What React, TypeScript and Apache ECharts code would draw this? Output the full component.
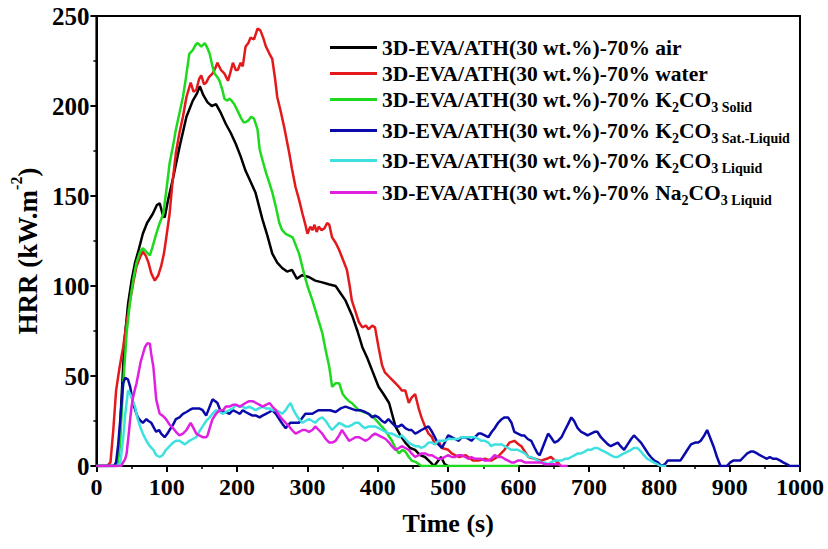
import React, { useEffect, useRef } from "react";
import * as echarts from "echarts";

const xTicks = [0, 100, 200, 300, 400, 500, 600, 700, 800, 900, 1000];
const yTicks = [0, 50, 100, 150, 200, 250];

const seriesNames = ["air", "water", "K2CO3 Solid", "K2CO3 Sat.-Liquid", "K2CO3 Liquid", "Na2CO3 Liquid"];
const seriesColors = ["#000000", "#e3191c", "#1fd91f", "#0a0aaa", "#3ee0e0", "#e020e0"];

const airData: [number, number][] = [[0,0],[10,0],[20,0],[28,0],[32,8],[36,40],[40,70],[45,90],[50,103],[55,113],[60,120],[66,129],[72,135],[80,140],[86,145],[90,146],[94,140],[97,138],[102,148],[109,160],[118,177],[128,194],[137,203],[143,207],[147,211],[152,206],[158,202],[164,200],[170,201],[177,196],[184,190],[191,185],[198,179],[205,172],[212,164],[219,158],[226,152],[236,137],[243,128],[250,118],[257,113],[264,110],[271,108],[278,109],[285,104],[292,106],[302,105],[311,103],[321,102],[330,101],[340,100],[347,96],[354,92],[364,83],[371,75],[378,66],[385,60],[392,53],[401,44],[408,40],[416,35],[425,22],[432,17],[439,13],[446,10],[453,9],[460,6],[467,5],[475,2],[480,0],[486,3],[490,5],[495,1],[500,0]];

const waterData: [number, number][] = [[0,0],[15,0],[20,2],[24,20],[28,42],[33,55],[38,66],[43,80],[48,92],[53,103],[57,111],[62,116],[66,119],[70,117],[74,113],[78,107],[83,103],[88,106],[92,111],[96,118],[99,126],[104,140],[108,157],[113,174],[118,185],[123,194],[128,205],[134,213],[138,208],[142,209],[146,215],[149,217],[153,212],[156,213],[160,216],[165,218],[169,221],[172,224],[177,220],[182,218],[187,214],[190,218],[194,224],[198,220],[201,220],[205,224],[208,222],[212,233],[216,235],[219,238],[224,237],[229,243],[233,242],[237,238],[241,233],[246,229],[250,226],[254,215],[257,205],[262,197],[267,188],[274,174],[278,165],[283,155],[288,148],[293,140],[297,134],[300,129],[304,133],[307,131],[310,134],[313,130],[316,133],[320,131],[324,132],[328,135],[331,134],[335,127],[340,124],[345,120],[350,115],[356,109],[360,100],[363,92],[368,86],[373,80],[378,77],[383,78],[387,76],[392,78],[396,77],[401,66],[406,56],[410,52],[415,50],[420,48],[425,46],[430,44],[434,42],[439,42],[444,35],[448,38],[453,40],[458,32],[462,27],[467,22],[472,18],[477,16],[481,12],[486,14],[491,10],[500,9],[505,7],[515,5],[525,6],[535,3],[543,3],[552,4],[561,3],[570,5],[580,9],[587,13],[594,14],[600,12],[604,11],[609,8],[614,5],[623,4],[632,3],[640,4],[646,5],[652,3],[656,2],[660,0]];

const solidData: [number, number][] = [[0,0],[25,0],[30,0],[34,15],[38,45],[43,74],[48,92],[53,105],[57,113],[62,119],[66,121],[71,119],[76,117],[80,122],[85,129],[90,135],[95,140],[100,155],[104,168],[109,178],[113,187],[118,196],[123,205],[127,215],[132,229],[137,231],[141,234],[144,235],[149,233],[154,235],[158,232],[161,229],[165,222],[168,218],[172,216],[175,214],[179,209],[182,204],[186,203],[189,204],[192,203],[196,201],[201,197],[206,193],[209,191],[212,191],[216,192],[220,194],[224,193],[229,187],[232,176],[236,170],[241,163],[246,157],[250,152],[255,144],[260,135],[264,131],[269,129],[274,128],[279,127],[283,123],[288,118],[295,107],[300,100],[307,92],[314,83],[321,74],[326,64],[331,55],[335,44],[340,46],[345,46],[350,40],[354,38],[359,36],[363,35],[368,33],[373,31],[380,30],[387,29],[394,27],[401,24],[410,20],[415,17],[420,14],[425,10],[430,7],[435,9],[439,8],[444,5],[448,3],[455,2],[462,0],[600,0]];

const satLiquidData: [number, number][] = [[0,0],[25,0],[28,2],[31,12],[34,26],[38,46],[41,49],[45,48],[48,44],[52,35],[56,30],[59,27],[63,25],[66,24],[71,26],[74,25],[78,24],[82,21],[85,19],[89,20],[92,18],[97,16],[101,18],[104,20],[109,23],[113,26],[118,27],[123,29],[128,30],[132,31],[137,32],[142,32],[146,32],[151,31],[156,28],[161,33],[165,37],[169,36],[172,35],[177,30],[184,30],[189,29],[194,31],[199,30],[204,29],[208,31],[212,30],[217,29],[222,28],[227,28],[232,27],[236,28],[241,29],[246,30],[250,31],[255,29],[260,26],[265,23],[269,21],[273,23],[276,24],[282,24],[288,24],[293,27],[297,29],[302,29],[307,29],[311,30],[316,31],[321,31],[326,31],[332,31],[340,30],[347,32],[354,33],[361,32],[368,31],[375,31],[382,30],[387,29],[392,27],[396,28],[401,27],[406,25],[410,24],[415,26],[420,24],[425,22],[430,22],[434,23],[439,21],[444,20],[448,20],[453,18],[458,19],[462,20],[467,21],[472,22],[477,19],[481,16],[486,12],[491,10],[495,13],[500,17],[505,16],[510,15],[515,14],[519,16],[524,16],[529,15],[533,14],[538,16],[543,18],[547,18],[552,17],[557,16],[562,19],[566,21],[571,24],[576,26],[580,27],[585,27],[590,24],[594,19],[599,18],[604,17],[608,17],[613,15],[618,14],[623,10],[627,7],[630,6],[634,10],[638,14],[642,18],[646,16],[651,13],[656,14],[661,16],[666,20],[670,23],[675,27],[679,25],[684,21],[689,19],[694,18],[698,17],[703,18],[708,19],[712,19],[717,16],[722,14],[727,12],[731,11],[736,12],[741,13],[745,11],[750,9],[755,12],[760,15],[764,17],[769,15],[774,13],[779,10],[784,7],[788,5],[793,3],[798,2],[803,0],[808,1],[812,3],[816,3],[821,3],[826,3],[830,3],[835,6],[840,9],[845,12],[851,13],[855,13],[859,14],[864,17],[868,20],[872,16],[877,11],[882,5],[887,0],[891,0],[896,0],[901,2],[905,3],[910,3],[915,3],[920,5],[925,7],[930,8],[934,8],[939,7],[943,6],[948,5],[953,4],[957,5],[962,4],[967,4],[972,3],[976,2],[981,1],[986,0],[1000,0]];

const k2co3LiquidData: [number, number][] = [[0,0],[30,0],[34,2],[38,15],[41,29],[45,42],[48,40],[50,38],[55,33],[58,27],[62,22],[66,18],[71,14],[76,11],[81,9],[85,6],[90,5],[94,6],[99,9],[104,11],[109,13],[113,14],[118,14],[122,13],[126,12],[129,13],[132,14],[137,15],[142,16],[146,19],[151,22],[156,25],[161,27],[165,29],[170,31],[175,30],[180,29],[184,30],[189,31],[194,32],[198,34],[203,33],[208,33],[212,32],[217,33],[222,32],[226,31],[231,32],[236,33],[241,32],[246,32],[250,31],[255,31],[260,30],[264,29],[269,31],[272,33],[276,35],[279,32],[283,29],[288,26],[293,24],[297,25],[302,26],[307,25],[311,24],[316,26],[321,27],[326,25],[331,22],[335,20],[340,22],[345,24],[350,23],[354,22],[359,22],[364,23],[368,24],[373,24],[378,22],[382,21],[387,22],[392,22],[396,22],[401,21],[406,20],[411,19],[416,18],[420,18],[425,17],[430,16],[434,17],[439,15],[444,13],[448,12],[453,11],[458,11],[462,10],[467,11],[472,13],[477,13],[481,12],[486,14],[491,14],[495,14],[500,15],[505,15],[509,15],[514,15],[519,16],[524,16],[529,16],[533,16],[538,16],[543,15],[547,14],[552,14],[557,13],[561,11],[566,12],[571,12],[576,12],[580,11],[585,10],[590,9],[594,9],[599,9],[604,8],[609,7],[614,5],[618,5],[623,4],[628,3],[632,2],[637,2],[642,1],[646,2],[651,3],[656,3],[661,3],[666,4],[670,4],[675,5],[680,6],[684,7],[689,7],[694,8],[698,9],[703,9],[708,10],[712,10],[717,9],[722,8],[727,7],[731,6],[736,5],[741,5],[745,6],[750,7],[755,8],[760,9],[764,10],[769,10],[774,8],[778,6],[783,4],[788,3],[792,2],[797,1],[802,0],[810,0]];

const na2co3LiquidData: [number, number][] = [[0,0],[35,0],[38,2],[41,4],[43,7],[46,18],[48,26],[50,33],[52,38],[55,43],[57,46],[60,52],[63,58],[66,62],[69,66],[72,68],[76,68],[78,62],[81,55],[83,46],[85,37],[88,32],[90,29],[94,28],[99,26],[104,23],[109,21],[113,19],[118,17],[123,18],[128,20],[131,22],[134,24],[138,21],[142,18],[146,17],[151,16],[156,16],[158,17],[161,21],[165,26],[170,29],[175,31],[180,31],[184,33],[189,33],[194,34],[199,34],[204,33],[208,34],[212,35],[217,36],[222,36],[227,35],[232,34],[236,33],[241,34],[246,35],[250,33],[255,31],[260,28],[264,26],[269,24],[274,22],[278,20],[283,18],[288,19],[293,20],[297,20],[302,19],[307,20],[311,22],[316,20],[321,18],[326,15],[331,13],[335,13],[340,14],[345,17],[349,20],[354,17],[359,14],[364,15],[368,16],[373,16],[378,15],[382,14],[387,15],[392,17],[396,18],[401,17],[406,16],[411,15],[416,13],[420,11],[425,9],[430,10],[434,11],[439,10],[444,9],[448,7],[453,5],[458,6],[462,7],[467,7],[472,6],[477,6],[481,5],[486,4],[491,4],[495,5],[500,6],[505,5],[510,5],[514,6],[519,6],[524,5],[529,4],[533,5],[538,4],[543,4],[547,4],[552,3],[557,3],[561,4],[566,6],[571,5],[576,5],[580,4],[585,3],[590,2],[594,2],[599,3],[604,3],[609,2],[614,2],[618,2],[623,2],[628,2],[632,2],[637,1],[642,1],[646,1],[651,1],[656,1],[661,0],[670,0]];

const allData = [airData, waterData, solidData, satLiquidData, k2co3LiquidData, na2co3LiquidData];

const legendRich: Record<string, string> = {
  "air": "{m|3D-EVA/ATH(30 wt.%)-70% air}",
  "water": "{m|3D-EVA/ATH(30 wt.%)-70% water}",
  "K2CO3 Solid": "{m|3D-EVA/ATH(30 wt.%)-70% K}{s|2}{m|CO}{s|3 Solid}",
  "K2CO3 Sat.-Liquid": "{m|3D-EVA/ATH(30 wt.%)-70% K}{s|2}{m|CO}{s|3 Sat.-Liquid}",
  "K2CO3 Liquid": "{m|3D-EVA/ATH(30 wt.%)-70% K}{s|2}{m|CO}{s|3 Liquid}",
  "Na2CO3 Liquid": "{m|3D-EVA/ATH(30 wt.%)-70% Na}{s|2}{m|CO}{s|3 Liquid}",
};
const legendRowCenters = [47, 73, 99, 130, 160, 192];

const FONT = "'Liberation Serif', 'Times New Roman', serif";

export default function App() {
  const ref = useRef<HTMLDivElement>(null);
  useEffect(() => {
    if (!ref.current) return;
    const chart = echarts.init(ref.current, null, { renderer: "svg" });
    const legends = seriesNames.map((name, i) => ({
      show: true,
      left: 330,
      top: legendRowCenters[i] - 10.5,
      orient: "vertical",
      data: [{ name, icon: "rect" }],
      itemWidth: 47,
      itemHeight: 3,
      selectedMode: false,
      padding: 0,
      formatter: (n: string) => legendRich[n],
      textStyle: {
        rich: {
          m: { fontFamily: FONT, fontWeight: "bold", fontSize: 21.5, color: "#000", padding: [4, 0, 4, 0], verticalAlign: "bottom" },
          s: { fontFamily: FONT, fontWeight: "bold", fontSize: 14, color: "#000", verticalAlign: "bottom" },
        },
      },
    }));
    chart.setOption({
      animation: false,
      backgroundColor: "#ffffff",
      grid: { left: 93, right: 28, top: 16, bottom: 83, show: true, borderColor: "#000", borderWidth: 2, backgroundColor: "transparent" },
      legend: legends,
      xAxis: {
        type: "value",
        min: xTicks[0],
        max: xTicks[xTicks.length - 1],
        interval: 100,
        name: "Time (s)",
        nameLocation: "middle",
        nameGap: 44,
        nameTextStyle: { fontFamily: FONT, fontWeight: "bold", fontSize: 26, color: "#000" },
        axisLine: { show: true, lineStyle: { color: "#000", width: 2 } },
        axisTick: { show: true, inside: false, length: 6, lineStyle: { color: "#000", width: 2 } },
        minorTick: { show: true, splitNumber: 2, length: 3, lineStyle: { color: "#000", width: 1.5 } },
        splitLine: { show: false },
        axisLabel: { fontFamily: FONT, fontWeight: "bold", fontSize: 24, color: "#000", margin: 9, formatter: (v: number) => String(v) },
      },
      yAxis: {
        type: "value",
        min: yTicks[0],
        max: yTicks[yTicks.length - 1],
        interval: 50,
        name: "{a|HRR (kW.m}{sup|-2}{a|)}",
        nameLocation: "middle",
        nameGap: 44,
        nameRotate: 90,
        nameTextStyle: {
          padding: [0, 20, 0, 0],
          rich: {
            a: { fontFamily: FONT, fontWeight: "bold", fontSize: 27, color: "#000", padding: [6, 0, 0, 0], verticalAlign: "bottom" },
            sup: { fontFamily: FONT, fontWeight: "bold", fontSize: 16, color: "#000", verticalAlign: "top" },
          },
        },
        axisLine: { show: true, lineStyle: { color: "#000", width: 2 } },
        axisTick: { show: true, inside: false, length: 6, lineStyle: { color: "#000", width: 2 } },
        minorTick: { show: true, splitNumber: 2, length: 3, lineStyle: { color: "#000", width: 1.5 } },
        splitLine: { show: false },
        axisLabel: { fontFamily: FONT, fontWeight: "bold", fontSize: 25, color: "#000", margin: 7, formatter: (v: number) => String(v) },
      },
      series: seriesNames.map((name, i) => ({
        name,
        type: "line",
        data: allData[i],
        showSymbol: false,
        symbol: "none",
        lineStyle: { color: seriesColors[i], width: 2.5 },
        itemStyle: { color: seriesColors[i] },
      })),
    });
    return () => chart.dispose();
  }, []);
  return <div ref={ref} style={{ position: "absolute", left: 0, top: 0, width: 828, height: 549 }} />;
}
